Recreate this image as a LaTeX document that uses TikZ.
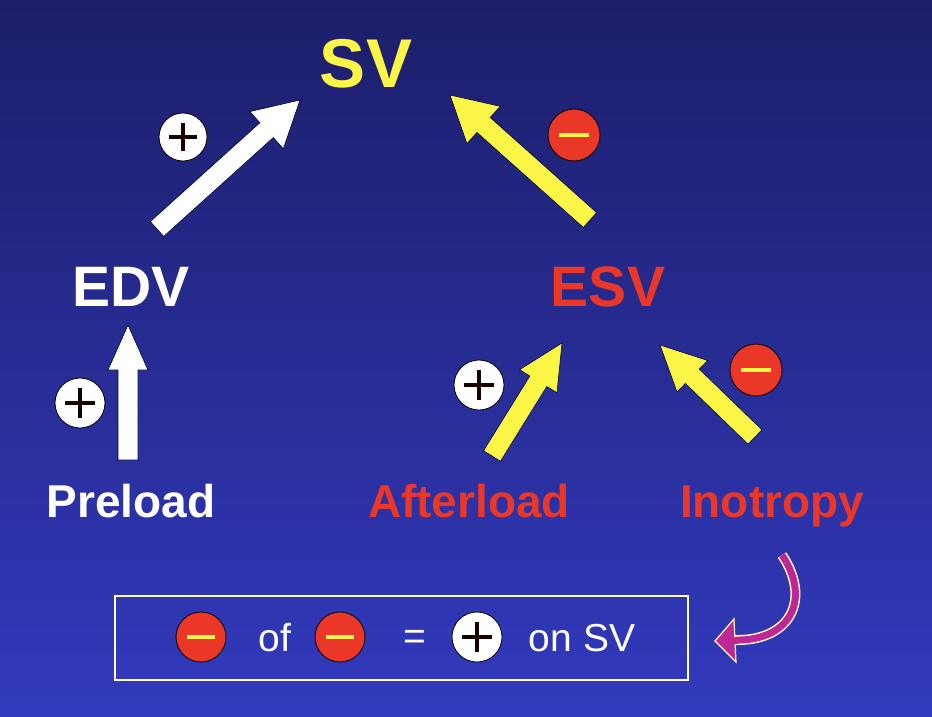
\documentclass[tikz,border=0pt]{standalone}
\usepackage{fontspec}
\setmainfont{Liberation Sans}
\usetikzlibrary{calc}
\definecolor{bgtop}{RGB}{28,30,105}
\definecolor{bgbot}{RGB}{50,58,190}
\definecolor{svy}{RGB}{250,245,70}
\definecolor{ered}{RGB}{235,55,40}
\definecolor{mag}{RGB}{190,40,150}
\definecolor{boxc}{RGB}{255,250,190}
\newcommand\blockarrow[5]{% color, tail, tip, halfshaft, halfhead
  \coordinate (H) at ($(#3)!45pt!(#2)$);
  \filldraw[fill=#1,draw=black!80!blue,line width=0.6pt]
   ($(#2)!#4!90:(#3)$) -- ($(H)!#4!-90:(#2)$) -- ($(H)!#5!-90:(#2)$) -- (#3)
   -- ($(H)!#5!90:(#2)$) -- ($(H)!#4!90:(#2)$) -- ($(#2)!#4!-90:(#3)$) -- cycle;}
\tikzset{
  lbl/.style={anchor=base,font=\fontsize{57}{60}\selectfont\bfseries},
  sub/.style={anchor=base,font=\fontsize{46}{50}\selectfont\bfseries},
  plusb/.style={circle,fill=white,draw=black,line width=0.8pt,minimum size=#1,inner sep=0pt},
  minusb/.style={circle,fill=ered,draw=black,line width=0.8pt,minimum size=#1,inner sep=0pt},
  btxt/.style={anchor=base,font=\fontsize{39}{42}\selectfont,text=white}
}
\newcommand\plus[3]{\node[plusb=#3] (#1) at (#2) {};
  \draw[line width=4pt,black!90!red] ($(#1)+(-0.3*#3,0)$) -- ($(#1)+(0.3*#3,0)$) ($(#1)+(0,-0.3*#3)$) -- ($(#1)+(0,0.3*#3)$);}
\newcommand\minus[3]{\node[minusb=#3] (#1) at (#2) {};
  \draw[line width=4pt,svy] ($(#1)+(-0.28*#3,0)$) -- ($(#1)+(0.28*#3,0)$);}
\begin{document}
\begin{tikzpicture}[x=1pt,y=-1pt]
\shade[top color=bgtop,bottom color=bgbot] (0,0) rectangle (932,716);
\useasboundingbox (0,0) rectangle (932,716);
\node[lbl,text=svy,font=\fontsize{69}{72}\selectfont\bfseries] (sv) at (366,87) {SV};
\node[lbl,text=white] (edv) at (131,306) {EDV};
\node[lbl,text=ered] (esv) at (608,306) {ESV};
\node[sub,text=white] (pre) at (131,517) {Preload};
\node[sub,text=ered] (aft) at (469,517) {Afterload};
\node[sub,text=ered] (ino) at (772,517) {Inotropy};
\coordinate (a1t) at (157,229); \coordinate (a1h) at (300,100);
\coordinate (a2t) at (590,220); \coordinate (a2h) at (450,95);
\coordinate (a3t) at (128,460); \coordinate (a3h) at (128,325);
\coordinate (a4t) at (492,456); \coordinate (a4h) at (562,343);
\coordinate (a5t) at (755,437); \coordinate (a5h) at (660,345);
\blockarrow{white}{a1t}{a1h}{10pt}{25pt}
\blockarrow{svy}{a2t}{a2h}{10pt}{25pt}
\blockarrow{white}{a3t}{a3h}{10pt}{20pt}
\blockarrow{svy}{a4t}{a4h}{10pt}{22pt}
\blockarrow{svy}{a5t}{a5h}{10pt}{22pt}
\plus{p1}{183,137}{48pt}
\minus{m1}{574,135}{52pt}
\plus{p2}{80,403}{50pt}
\plus{p3}{479,385}{50pt}
\minus{m2}{756,370}{52pt}
\node[draw=boxc,line width=2pt,minimum width=573pt,minimum height=84pt] (box) at (401.5,638) {};
\minus{m3}{201,637}{50pt}
\minus{m4}{340,637}{50pt}
\plus{p4}{477,637}{50pt}
\node[btxt] (of) at (275,651) {of};
\node[btxt] (eq) at (415,649) {=};
\node[btxt] (on) at (582,651) {on SV};
\coordinate (c1) at (782,555); \coordinate (c2) at (733,640);
\draw[boxc,line width=10pt] (c1) .. controls (812,600) and (790,642) .. (c2);
\draw[mag,line width=7pt] (c1) .. controls (812,600) and (790,642) .. (c2);
\filldraw[fill=mag,draw=boxc,line width=1.2pt] (715,641) -- (734,619) -- (736,662) -- cycle;
\fill[mag] (733,636.5) rectangle (738,643.5);
\end{tikzpicture}
\end{document}
